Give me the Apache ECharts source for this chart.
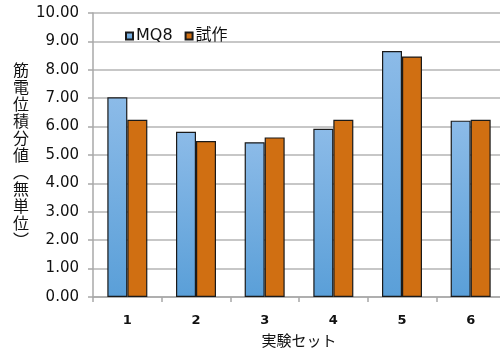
<!DOCTYPE html>
<html><head><meta charset="utf-8">
<script src="https://cdn.jsdelivr.net/npm/echarts@6/dist/echarts.min.js"></script>
<style>html,body{margin:0;padding:0;background:#fff;overflow:hidden}#c{width:505px;height:350px}</style>
</head><body><div id="c"></div>
<script>
const categories = ['1','2','3','4','5','6'];
const seriesNames = ['MQ8','試作'];
const mq8 = [7.03, 5.82, 5.45, 5.92, 8.66, 6.21];
const shisaku = [6.24, 5.49, 5.62, 6.24, 8.47, 6.24];
const yName = '筋\n電\n位\n積\n分\n値\n︵\n無\n単\n位\n︶';
const xName = '実験セット';

const chart = echarts.init(document.getElementById('c'), null, {renderer:'canvas'});
const font = '"DejaVu Sans", "Noto Sans CJK JP", sans-serif';
chart.setOption({
  animation:false,
  textStyle:{fontFamily:font},
  grid:{left:93, right:0, top:13, bottom:53, containLabel:false, outerBoundsMode:'none'},
  legend:{
    left:120, top:23, itemWidth:7, itemHeight:7, itemGap:12,
    icon:'rect',
    textStyle:{fontSize:16, color:'#111', fontFamily:font, padding:[0,0,0,-2]},
    data:seriesNames
  },
  xAxis:{
    type:'category', data:categories,
    name:xName, nameLocation:'middle', nameGap:36,
    nameTextStyle:{fontSize:15, color:'#111', fontFamily:'"Noto Sans CJK JP", sans-serif'},
    axisLine:{lineStyle:{color:'#a8a8a8', width:1.5}},
    axisTick:{show:true, length:5, lineStyle:{color:'#a8a8a8', width:1.5}},
    axisLabel:{fontSize:13, color:'#111', margin:17, fontWeight:'bold', fontFamily:font}
  },
  yAxis:{
    type:'value', min:0, max:10, interval:1,
    name:yName, nameLocation:'middle', nameRotate:0, nameGap:64,
    nameTextStyle:{fontSize:16, color:'#111', lineHeight:17, padding:[6,0,0,0], fontFamily:'"Noto Sans CJK JP", sans-serif'},
    axisLine:{show:true, lineStyle:{color:'#a8a8a8', width:1.5}},
    axisTick:{show:true, length:5, lineStyle:{color:'#a8a8a8', width:1.5}},
    axisLabel:{fontSize:15, color:'#111', margin:14, formatter:v=>v.toFixed(2), fontFamily:font},
    splitLine:{show:true, lineStyle:{color:'#b4b4b4', width:1.5}}
  },
  series:[
    {name:seriesNames[0], type:'bar', data:mq8, barWidth:20, barGap:'0%',
     itemStyle:{color:new echarts.graphic.LinearGradient(0,0,0,1,[{offset:0,color:'#8cbbe8'},{offset:1,color:'#5a9fd8'}]),
       borderColor:'#1a1a1a', borderWidth:1.2}},
    {name:seriesNames[1], type:'bar', data:shisaku, barWidth:20,
     itemStyle:{color:'#d06f12', borderColor:'#1a1a1a', borderWidth:1.2}}
  ]
});
</script></body></html>
